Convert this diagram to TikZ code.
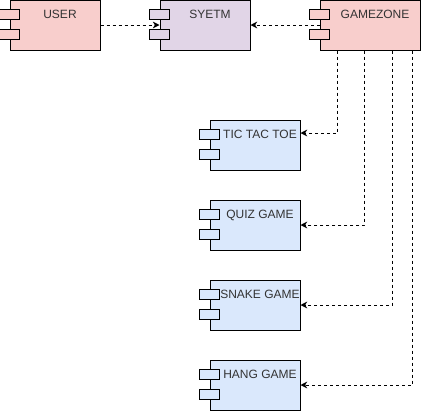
\documentclass[tikz,border=0pt]{standalone}
\usepackage{fontspec}
\setmainfont{Liberation Sans}
\usetikzlibrary{arrows.meta, positioning, calc}
\definecolor{cpink}{HTML}{F8CECC}
\definecolor{cviolet}{HTML}{E1D5E7}
\definecolor{cblue}{HTML}{DAE8FC}
\definecolor{ctext}{HTML}{333333}
\tikzset{
  every picture/.style={line width=0.75pt},
  part/.style={draw=black, fill=#1, minimum width=67.5pt, minimum height=37.5pt,
    inner xsep=0pt, inner ysep=4.5pt, text height=9pt, text depth=19.5pt,
    text=ctext, font=\fontsize{9}{11}\selectfont,
    execute at begin node={\hspace*{7.5pt}}},
  part/.default=cblue,
  port/.style={draw=black, fill=#1, minimum width=15pt, minimum height=7.5pt, inner sep=0pt},
  port/.default=cblue,
  dep/.style={-{Stealth[length=5pt, width=5pt, inset=1.5pt]}, draw=black, dash pattern=on 2.25pt off 2.25pt},
}

\begin{document}
\begin{tikzpicture}[x=0.75pt, y=-0.75pt]
  \newcommand{\comp}[4]{% name, position, colour, text
    \node[part=#3] (#1) at (#2) {#4};
    \node[port=#3] (#1-a) at ($(#1.north west)+(0,-11.25pt)$) {};
    \node[port=#3] (#1-b) at ($(#1.north west)+(0,-26.25pt)$) {};
  }
  \useasboundingbox (0,0) rectangle (422,411);

  % top row
  \comp{user}{55,25}{cpink}{USER}
  \comp{sys}{205,25}{cviolet}{SYETM}
  \node[part=cpink, minimum width=75pt] (gz) at (370,25) {GAMEZONE};
  \node[port=cpink] (gz-a) at ($(gz.north west)+(0,-11.25pt)$) {};
  \node[port=cpink] (gz-b) at ($(gz.north west)+(0,-26.25pt)$) {};

  % games
  \comp{tic}{255,145}{cblue}{TIC TAC TOE}
  \comp{quiz}{255,225}{cblue}{QUIZ GAME}
  \comp{snake}{255,305}{cblue}{SNAKE GAME}
  \comp{hang}{255,385}{cblue}{HANG GAME}

  % links
  \draw[dep] (user) -- (sys);
  \draw[dep] (gz) -- (sys);
  \draw[dep] ([xshift=13.5pt]gz.south west) |- ([yshift=9pt]tic.east);
  \draw[dep] ([xshift=34pt]gz.south west) |- (quiz.east);
  \draw[dep] ([xshift=54.75pt]gz.south west) |- (snake.east);
  \draw[dep] ([xshift=69.5pt]gz.south west) |- (hang.east);
\end{tikzpicture}
\end{document}
